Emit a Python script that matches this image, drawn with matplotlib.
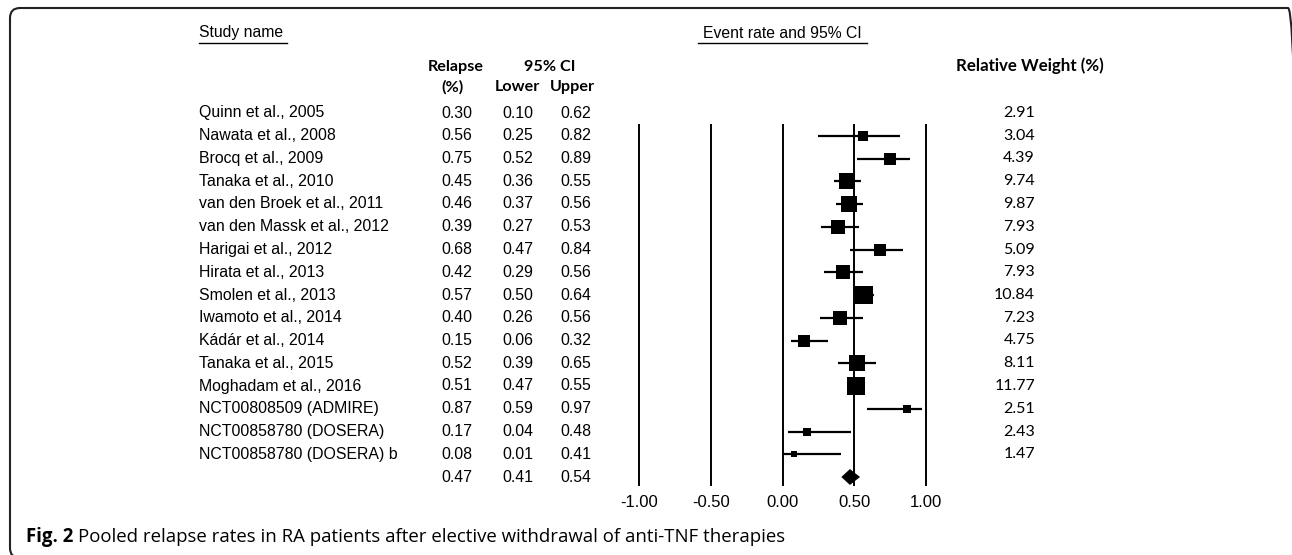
import numpy as np
import matplotlib
matplotlib.use("Agg")
import matplotlib.pyplot as plt
from matplotlib.patches import FancyBboxPatch
from matplotlib.transforms import IdentityTransform

# ====== 資料 ======
STUDY_NAMES = ["Quinn et al., 2005", "Nawata et al., 2008", "Brocq et al., 2009",
               "Tanaka et al., 2010", "van den Broek et al., 2011", "van den Massk et al., 2012",
               "Harigai et al., 2012", "Hirata et al., 2013", "Smolen et al., 2013",
               "Iwamoto et al., 2014", "Kádár et al., 2014", "Tanaka et al., 2015",
               "Moghadam et al., 2016", "NCT00808509 (ADMIRE)", "NCT00858780 (DOSERA)",
               "NCT00858780 (DOSERA) b"]
RELAPSE = [0.30, 0.56, 0.75, 0.45, 0.46, 0.39, 0.68, 0.42, 0.57, 0.40, 0.15, 0.52, 0.51, 0.87, 0.17, 0.08]
LOWER = [0.10, 0.25, 0.52, 0.36, 0.37, 0.27, 0.47, 0.29, 0.50, 0.26, 0.06, 0.39, 0.47, 0.59, 0.04, 0.01]
UPPER = [0.62, 0.82, 0.89, 0.55, 0.56, 0.53, 0.84, 0.56, 0.64, 0.56, 0.32, 0.65, 0.55, 0.97, 0.48, 0.41]
WEIGHT = [2.91, 3.04, 4.39, 9.74, 9.87, 7.93, 5.09, 7.93, 10.84, 7.23, 4.75, 8.11, 11.77, 2.51, 2.43, 1.47]
POOLED = [0.47, 0.41, 0.54]  # 合併估計值, 下界, 上界
X_TICKS = [-1.00, -0.50, 0.00, 0.50, 1.00]

CAPTION_BOLD = "Fig. 2"
CAPTION = "Pooled relapse rates in RA patients after elective withdrawal of anti-TNF therapies"

# ====== 版面 (像素) ======
W, H = 1292, 555
ROW_Y0, ROW_DY = 113, 22.75      # 第一列的 y 與列距
X_ZERO, X_SCALE = 782.5, 143.5   # 森林圖 0 的位置與每單位像素
AX_TOP, AX_BOT = 124, 486

ARIAL = "Liberation Sans"
CALIBRI = "Lato"


def fx(x):
    return x / W


def fy(y):
    return 1 - y / H


def row_y(i):
    return ROW_Y0 + ROW_DY * i


fig = plt.figure(figsize=(W / 100, H / 100), dpi=100)

# ====== 森林圖 ======
xlo, xhi = -1.15, 1.15
ax_left = X_ZERO + X_SCALE * xlo
ax = fig.add_axes([fx(ax_left), fy(AX_BOT), X_SCALE * (xhi - xlo) / W, (AX_BOT - AX_TOP) / H])
ax.set_xlim(xlo, xhi)
ax.set_ylim((AX_BOT - ROW_Y0) / ROW_DY, (AX_TOP - ROW_Y0) / ROW_DY)
ax.patch.set_alpha(0)
for s in ax.spines.values():
    s.set_visible(False)
ax.set_yticks([])
ax.set_xticks(X_TICKS)
ax.set_xticklabels([f"{v:.2f}" for v in X_TICKS], fontfamily=ARIAL, fontsize=12)
ax.tick_params(axis="x", length=0, pad=6.5)
for v in X_TICKS:
    ax.axvline(v, color="black", lw=1.4)

# Quinn 這一列落在圖框上緣之外，會被裁掉（與原圖相同）
for i, (r, lo, up, w) in enumerate(zip(RELAPSE, LOWER, UPPER, WEIGHT)):
    ax.plot([lo, up], [i, i], color="black", lw=1.6, solid_capstyle="butt")
    ax.plot(r, i, marker="s", ms=3.8 * np.sqrt(w), color="black", mew=0)

n = len(STUDY_NAMES)
est, plo, pup = POOLED
ax.fill([plo, est, pup, est], [n, n - 0.35, n, n + 0.35], color="black", lw=0)

# ====== 表頭 ======
fig.text(fx(199), fy(33), "Study name", family=ARIAL, fontsize=11.3, va="center", ha="left")
fig.add_artist(plt.Line2D([fx(199), fx(287)], [fy(43), fy(43)], color="black", lw=1))
fig.text(fx(782), fy(33), "Event rate and 95% CI", family=ARIAL, fontsize=11.3, va="center", ha="center")
fig.add_artist(plt.Line2D([fx(698), fx(867)], [fy(43), fy(43)], color="black", lw=1))

hdr = dict(family=CALIBRI, fontweight="bold", fontsize=11.6, va="center", ha="center")
fig.text(fx(456), fy(67), "Relapse", **hdr)
fig.text(fx(453), fy(87), "(%)", **hdr)
fig.text(fx(550), fy(67), "95% CI", **hdr)
fig.text(fx(517), fy(87), "Lower", **hdr)
fig.text(fx(572), fy(87), "Upper", **hdr)
fig.text(fx(1030), fy(66), "Relative Weight (%)", family=CALIBRI, fontweight="bold",
         fontsize=12.2, va="center", ha="center")

# ====== 數值欄 ======
num = dict(family=ARIAL, fontsize=11.4, va="center", ha="center")
for i, name in enumerate(STUDY_NAMES):
    y = fy(row_y(i))
    fig.text(fx(199), y, name, family=ARIAL, fontsize=11.4, va="center", ha="left")
    fig.text(fx(457), y, f"{RELAPSE[i]:.2f}", **num)
    fig.text(fx(518), y, f"{LOWER[i]:.2f}", **num)
    fig.text(fx(576), y, f"{UPPER[i]:.2f}", **num)
    fig.text(fx(1035), y, f"{WEIGHT[i]:.2f}", family=CALIBRI, fontsize=11.5, va="center", ha="right")

y = fy(row_y(n))
fig.text(fx(457), y, f"{POOLED[0]:.2f}", **num)
fig.text(fx(518), y, f"{POOLED[1]:.2f}", **num)
fig.text(fx(576), y, f"{POOLED[2]:.2f}", **num)

# ====== 說明文字 ======
cap_bold = fig.text(fx(26), fy(537), CAPTION_BOLD, family="Open Sans", fontweight="bold",
                    fontsize=13.4, va="center", ha="left")
renderer = fig.canvas.get_renderer()
bb = cap_bold.get_window_extent(renderer)
fig.text((bb.x1 + 5) / W, fy(537), CAPTION, family="Open Sans", fontsize=13.4, va="center", ha="left")

# ====== 外框 ======
frame = FancyBboxPatch((10, -3), 1298 - 10, H - 8 + 3, boxstyle="round,pad=0,rounding_size=10",
                       transform=IdentityTransform(), fill=False, lw=1.5, ec="#222222")
fig.add_artist(frame)

fig.savefig("out.png", dpi=100)
